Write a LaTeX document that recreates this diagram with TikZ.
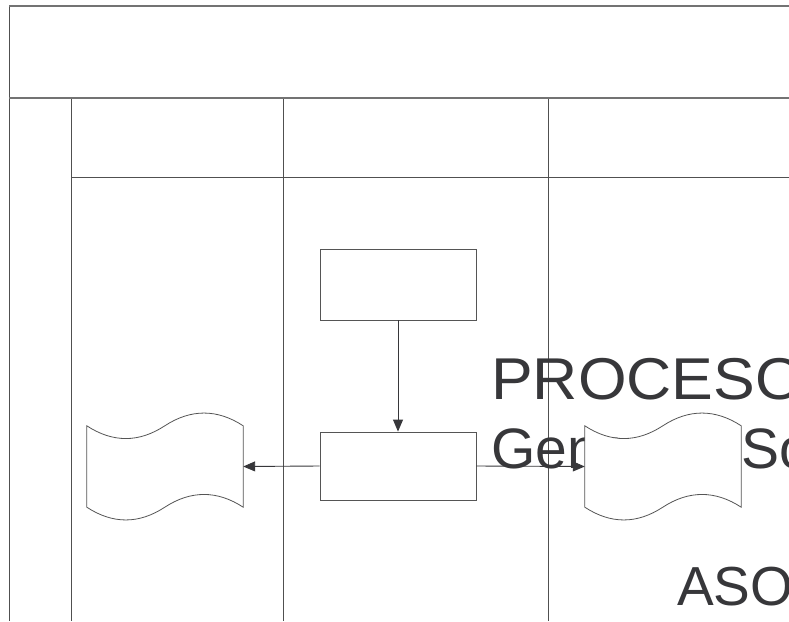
\documentclass[tikz,border=0pt]{standalone}
\usepackage{fontspec}
\setmainfont{Liberation Sans}
\usetikzlibrary{arrows.meta,calc}
\definecolor{lanecol}{RGB}{80,80,80}
\definecolor{framecol}{RGB}{115,115,115}
\definecolor{shapecol}{RGB}{85,85,85}
\definecolor{textcol}{RGB}{55,55,58}
\tikzset{
  laneline/.style={draw=lanecol, line width=1pt},
  frameline/.style={draw=framecol, line width=1.6pt},
  procbox/.style={draw=shapecol, line width=0.9pt, fill=white, rectangle, minimum width=156pt, minimum height=#1, inner sep=0pt},
  docarea/.style={draw=none, rectangle, minimum width=156pt, minimum height=81pt, inner sep=0pt},
  docline/.style={draw=shapecol, line width=0.8pt, fill=white},
  flow/.style={draw=textcol, line width=0.9pt, -{Triangle[length=12pt,width=10pt]}},
  bigtext/.style={text=textcol, inner sep=0pt, anchor=base west, font=\fontsize{#1}{#1}\selectfont}
}
\newcommand\wavedoc[1]{%
  \draw[docline] (#1.north west) .. controls +(26,17) and +(-26,17) .. ($(#1.north west)+(78,0)$)
    .. controls +(26,-17) and +(-26,-17) .. (#1.north east) -- (#1.south east)
    .. controls +(-26,-17) and +(26,-17) .. ($(#1.south west)+(78,0)$)
    .. controls +(-26,17) and +(26,17) .. (#1.south west) -- cycle;}
\begin{document}
\begin{tikzpicture}[x=1pt,y=-1pt]
\useasboundingbox (0,0) rectangle (789,621);
\fill[white] (0,0) rectangle (789,621);
\begin{scope}
\clip (0,0) rectangle (789,621);
% pool frame and lanes
\coordinate (ftl) at (9,6);
\coordinate (ftr) at (789,6);
\coordinate (fbl) at (9,621);
\coordinate (hl) at (9,98);
\coordinate (hr) at (789,98);
\coordinate (l1t) at (71,98);   \coordinate (l1b) at (71,621);
\coordinate (l2t) at (283,98);  \coordinate (l2b) at (283,621);
\coordinate (l3t) at (548,98);  \coordinate (l3b) at (548,621);
\coordinate (sl) at (71,177);   \coordinate (sr) at (789,177);
\draw[laneline] (ftl) -- (fbl);
\draw[laneline] (l1t) -- (l1b);
\draw[laneline] (l2t) -- (l2b);
\draw[laneline] (l3t) -- (l3b);
\draw[laneline] (sl) -- (sr);
\draw[frameline] (ftl) -- (ftr);
\draw[frameline] (hl) -- (hr);
% process boxes
\node[procbox=71pt] (p1) at (398,284.5) {};
\node[procbox=68pt] (p2) at (398,466) {};
\node[docarea] (docL) at (165,466.5) {};
\node[docarea] (docR) at (663,466.5) {};
% connectors
\draw[flow] (p1.south) -- (p2.north);
\draw[flow] (p2.west) -- (docL.east);
\draw[flow] (p2.east) -- (docR.west);
% overflowing title text
\node[bigtext=59] (t1) at (491,399) {\addfontfeature{FakeStretch=1.06}PROCESO};
\node[bigtext=57] (t2) at (491,468) {Generar\hspace{25pt} Solicitud};
\node[bigtext=55] (t3) at (677,605) {ASOCIADO};
% documents
\wavedoc{docL}
\wavedoc{docR}
\end{scope}
\end{tikzpicture}
\end{document}
